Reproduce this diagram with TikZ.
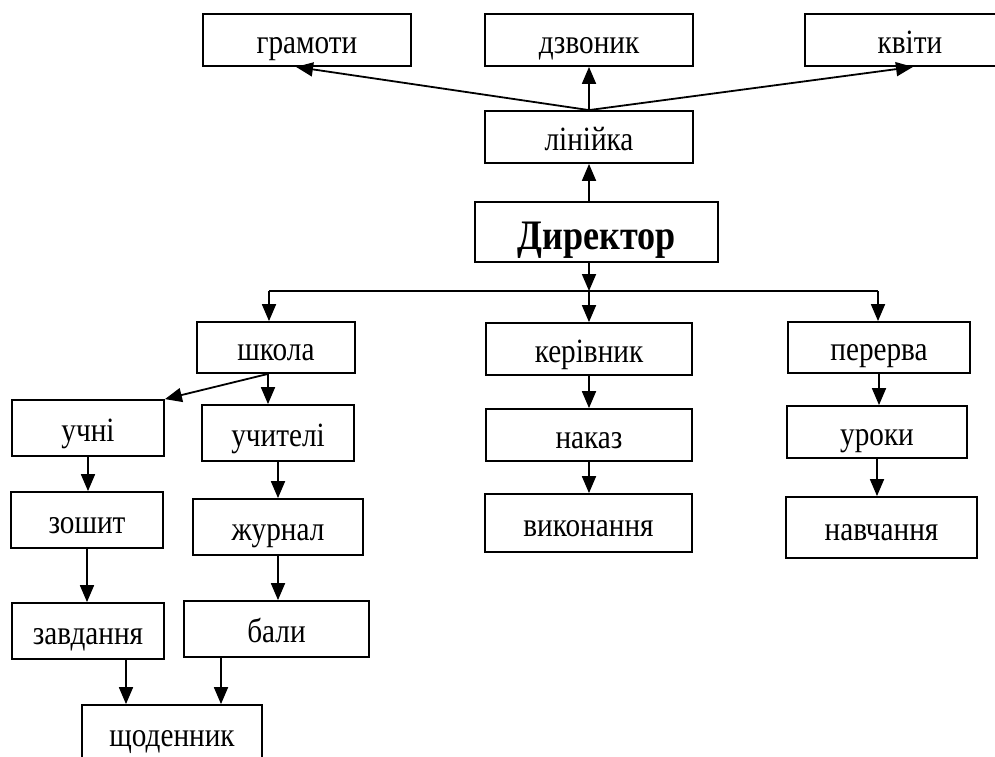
\documentclass[tikz,border=0pt]{standalone}
\usepackage{fontspec}
\setmainfont{Liberation Serif}[FakeStretch=0.86]
\usetikzlibrary{calc,positioning,arrows.meta}

\tikzset{
  box/.style={draw, line width=1.8pt, rectangle, inner sep=2pt,
    text height=26pt, text depth=0pt,
    minimum height=52pt, font=\fontsize{34}{36}\selectfont},
  arr/.style={line width=1.8pt, -{Triangle[length=17pt,width=14pt]}},
}

\begin{document}
\begin{tikzpicture}[x=1pt,y=-1pt]
  \useasboundingbox (0,0) rectangle (995,756);

  % top row
  \node [box, minimum width=208pt] at (307,40) (hramoty) {грамоти};
  \node [box, minimum width=208pt] at (589,40) (dzvonyk) {дзвоник};
  \node [box, minimum width=210pt] at (910,40) (kvity) {квіти};
  \node [box, minimum width=208pt] at (589,137) (liniyka) {лінійка};
  \node [box, minimum width=243pt, minimum height=60pt, text height=34pt,
    font=\fontsize{42}{44}\selectfont\bfseries] at (596.5,232) (dyrektor) {Директор};

  \path [arr] (liniyka.north) edge ([xshift=-11pt]hramoty.south)
    (liniyka.north) edge (dzvonyk.south)
    (liniyka.north) edge ([xshift=3pt]kvity.south);
  \draw [arr] (liniyka.south |- dyrektor.north) -- (liniyka.south);

  % bus
  \coordinate (bus_left) at (269,291);
  \coordinate (bus_mid) at (589,291);
  \coordinate (bus_right) at (878,291);
  \draw [line width=1.8pt] (bus_left) -- (bus_right);
  \draw [arr] (bus_mid |- dyrektor.south) -- (bus_mid);

  % three branches
  \node [box, minimum width=158pt, minimum height=51pt] at (276,347.5) (shkola) {школа};
  \node [box, minimum width=206pt] at (589,349) (kerivnyk) {керівник};
  \node [box, minimum width=182pt, minimum height=51pt] at (879,347.5) (pererva) {перерва};
  \foreach \c/\b in {bus_left/shkola, bus_mid/kerivnyk, bus_right/pererva}
    \draw [arr] (\c) -- (\c |- \b.north);

  \node [box, minimum width=152pt, minimum height=56pt] at (88,428) (uchni) {учні};
  \node [box, minimum width=152pt, minimum height=56pt] at (278,433) (uchyteli) {учителі};
  \node [box, minimum width=206pt] at (589,435) (nakaz) {наказ};
  \node [box, minimum width=180pt] at (877,432) (uroky) {уроки};

  \node [box, minimum width=152pt, minimum height=56pt] at (87,520) (zoshyt) {зошит};
  \node [box, minimum width=170pt, minimum height=56pt] at (278,527) (zhurnal) {журнал};
  \node [box, minimum width=207pt, minimum height=58pt] at (588.5,523) (vykonannia) {виконання};
  \node [box, minimum width=191pt, minimum height=61pt] at (881.5,527.5) (navchannia) {навчання};

  \node [box, minimum width=152pt, minimum height=56pt] at (88,631) (zavdannia) {завдання};
  \node [box, minimum width=185pt, minimum height=56pt] at (276.5,629) (baly) {бали};
  \node [box, minimum width=180pt, minimum height=56pt] at (172,733) (shchodennyk) {щоденник};

  % school splits
  \coordinate (shkola_out) at ([xshift=-8pt]shkola.south);
  \draw [arr] (shkola_out) -- (uchni.north east);
  \draw [arr] (shkola_out) -- (shkola_out |- uchyteli.north);

  \foreach \a/\b in {uchni/zoshyt, zoshyt/zavdannia, uchyteli/zhurnal, zhurnal/baly,
    kerivnyk/nakaz, nakaz/vykonannia, pererva/uroky, uroky/navchannia}
    \draw [arr] (\a.south) -- (\a.south |- \b.north);

  % into the diary
  \coordinate (in_left) at ([xshift=-46pt]shchodennyk.north);
  \coordinate (in_right) at ([xshift=49pt]shchodennyk.north);
  \draw [arr] (in_left |- zavdannia.south) -- (in_left);
  \draw [arr] (in_right |- baly.south) -- (in_right);

\end{tikzpicture}
\end{document}
